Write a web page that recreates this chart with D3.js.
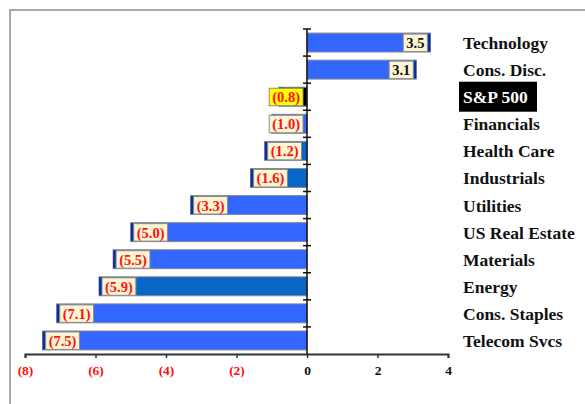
<!DOCTYPE html>
<html>
<head>
<meta charset="utf-8">
<script src="https://cdn.jsdelivr.net/npm/d3@7"></script>
<style>
  html, body { margin: 0; padding: 0; background: #fff; }
  svg { display: block; }
</style>
</head>
<body>
<svg id="chart" width="585" height="404"></svg>
<script>
// Sector performance, top to bottom
const sectors = ["Technology", "Cons. Disc.", "S&P 500", "Financials", "Health Care",
  "Industrials", "Utilities", "US Real Estate", "Materials", "Energy",
  "Cons. Staples", "Telecom Svcs"];
const returns = [3.5, 3.1, -0.8, -1.0, -1.2, -1.6, -3.3, -5.0, -5.5, -5.9, -7.1, -7.5];
const benchmark = "S&P 500";
const altShadeSectors = ["Health Care", "Industrials", "Energy"];
const xTicks = [-8, -6, -4, -2, 0, 2, 4];

const fmt = v => v < 0 ? "(" + d3.format(".1f")(-v) + ")" : d3.format(".1f")(v);
const fmtTick = v => v < 0 ? "(" + (-v) + ")" : String(v);

const svg = d3.select("#chart");
const serif = "'Liberation Serif', 'Times New Roman', serif";

svg.append("rect").attr("width", 585).attr("height", 404).attr("fill", "#fff");

// outer frame
svg.append("rect")
  .attr("x", 10).attr("y", 10).attr("width", 700).attr("height", 500)
  .attr("fill", "none").attr("stroke", "#a8a8a8").attr("stroke-width", 2);

const x = d3.scaleLinear().domain([-8, 4]).range([25, 448]);
const y = d3.scaleBand().domain(sectors).range([29, 354]).paddingInner(0.3).paddingOuter(0.15);

const rows = sectors.map((s, i) => ({ name: s, value: returns[i] }));

function fillFor(d) {
  if (d.name === benchmark) return "#000";
  return altShadeSectors.includes(d.name) ? "#0866c6" : "#3366ff";
}
function capFor(d) {
  return d.name === benchmark ? "#000" : "#0a2fa0";
}

const bars = svg.append("g");
const g = bars.selectAll("g").data(rows).join("g");

g.append("rect")
  .attr("x", d => x(Math.min(0, d.value)))
  .attr("y", d => y(d.name))
  .attr("width", d => Math.abs(x(d.value) - x(0)))
  .attr("height", y.bandwidth())
  .attr("fill", fillFor)
  .attr("stroke", "#8a8a8a").attr("stroke-width", 1);

// darker end cap at the outer end of each bar
g.append("rect")
  .attr("x", d => d.value < 0 ? x(d.value) : x(d.value) - 3)
  .attr("y", d => y(d.name) + 0.5)
  .attr("width", 3)
  .attr("height", y.bandwidth() - 1)
  .attr("fill", capFor);

// value labels in boxes, placed just inside the bar end
g.each(function (d) {
  const sel = d3.select(this);
  const t = sel.append("text")
    .attr("font-family", serif).attr("font-weight", "bold").attr("font-size", 14.5)
    .attr("fill", d.value < 0 ? "#ff1010" : "#111")
    .attr("dominant-baseline", "central")
    .attr("y", y(d.name) + y.bandwidth() / 2 + 0.5)
    .text(fmt(d.value));
  const w = t.node().getComputedTextLength() + 6;
  const bx = d.value < 0 ? Math.min(x(d.value) + 3, x(0) - 4 - w) : x(d.value) - 3 - w;
  sel.insert("rect", "text")
    .attr("x", bx).attr("y", y(d.name) + 1)
    .attr("width", w).attr("height", y.bandwidth() - 1.5)
    .attr("fill", d.name === benchmark ? "#ffff00" : "#fdf6d3")
    .attr("stroke", "#8c8c8c").attr("stroke-width", 1);
  t.attr("x", bx + w / 2).attr("text-anchor", "middle");
});

// vertical zero axis with separators between categories
const step = y.step();
const y0 = y.range()[0];
svg.append("line")
  .attr("x1", x(0)).attr("x2", x(0)).attr("y1", y0).attr("y2", 354)
  .attr("stroke", "#111").attr("stroke-width", 1.5);
svg.append("g").selectAll("line").data(d3.range(sectors.length))
  .join("line")
  .attr("x1", x(0) - 4).attr("x2", x(0) + 4)
  .attr("y1", i => y0 + i * step).attr("y2", i => y0 + i * step)
  .attr("stroke", "#111").attr("stroke-width", 1.5);

// bottom value axis
const xAxis = svg.append("g").attr("transform", "translate(0,354)")
  .call(d3.axisBottom(x).tickValues(xTicks).tickSize(4).tickFormat(fmtTick));
xAxis.select(".domain").attr("stroke", "#333").attr("stroke-width", 2);
xAxis.selectAll(".tick line").attr("stroke", "#333").attr("stroke-width", 1.5);
xAxis.selectAll(".tick text")
  .attr("font-family", serif).attr("font-weight", "bold").attr("font-size", 13.5)
  .attr("y", 11)
  .attr("fill", d => d < 0 ? "#ff1010" : "#111");

// category names on the right
const names = svg.append("g");
names.selectAll("rect").data(rows.filter(d => d.name === benchmark))
  .join("rect")
  .attr("x", 459).attr("width", 78)
  .attr("y", d => y(d.name) + y.bandwidth() / 2 - 15)
  .attr("height", 30)
  .attr("fill", "#000");
names.selectAll("text").data(rows).join("text")
  .attr("x", 463)
  .attr("y", d => y(d.name) + y.bandwidth() / 2 + 0.5)
  .attr("dominant-baseline", "central")
  .attr("font-family", serif).attr("font-weight", "bold").attr("font-size", 17.5)
  .attr("fill", d => d.name === benchmark ? "#fff" : "#111")
  .text(d => d.name);
</script>
</body>
</html>
